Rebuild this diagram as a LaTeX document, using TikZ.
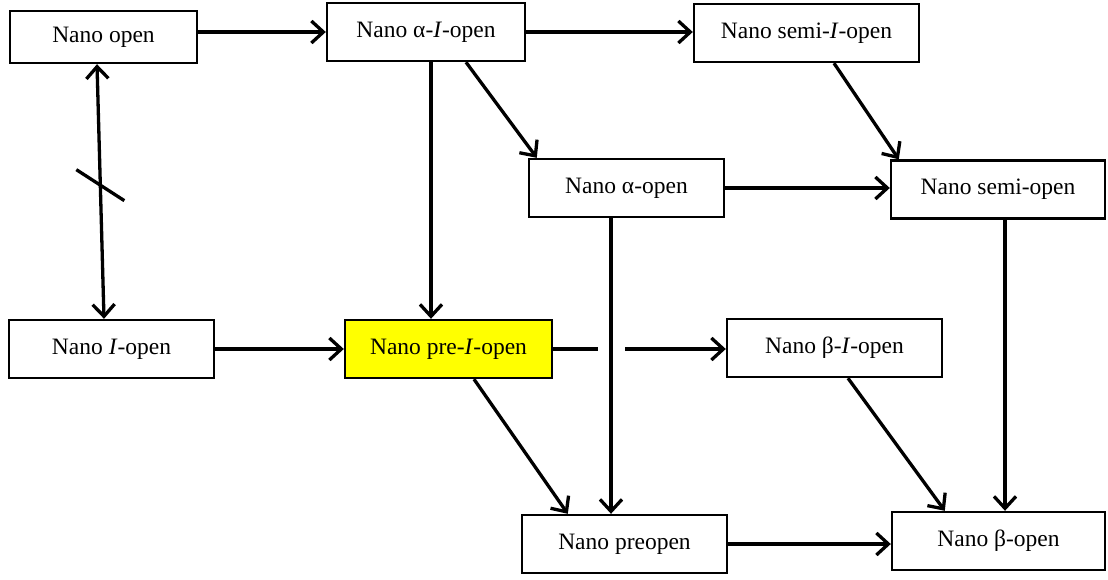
\documentclass[tikz,border=0pt]{standalone}
\usepackage{fontspec}
\setmainfont{Liberation Serif}
\usetikzlibrary{arrows.meta,calc}
\definecolor{hl}{RGB}{255,255,0}
\begin{document}
\begin{tikzpicture}[x=1pt,y=-1pt,
  box/.style={draw, line width=2.4pt, minimum height=58pt, inner sep=0pt,
    font=\fontsize{23.5}{28}\selectfont},
  conn/.style={line width=3.3pt, -{Straight Barb[length=12pt,width=22pt]}},
  both/.style={line width=3.3pt, {Straight Barb[length=12pt,width=22pt]}-{Straight Barb[length=12pt,width=22pt]}},
  plain/.style={line width=3.3pt}
]
\useasboundingbox (0,0) rectangle (1108,579);

\node[box, minimum width=187pt, minimum height=52pt] (open) at (103.5,37) {Nano open};
\node[box, minimum width=198pt] (aI) at (426,32) {Nano α-\textit{I}-open};
\node[box, minimum width=225pt] (sI) at (806.5,33) {Nano semi-\textit{I}-open};
\node[box, minimum width=195pt] (aop) at (626.5,188) {Nano α-open};
\node[box, minimum width=214pt] (sop) at (998,189.5) {Nano semi-open};
\node[box, minimum width=205pt] (iop) at (111.5,349) {Nano \textit{I}-open};
\node[box, minimum width=207pt, fill=hl] (pI) at (448.5,349) {Nano pre-\textit{I}-open};
\node[box, minimum width=215pt] (bI) at (834.5,348) {Nano β-\textit{I}-open};
\node[box, minimum width=205pt] (pre) at (624.5,544) {Nano preopen};
\node[box, minimum width=213pt] (bop) at (998.5,541) {Nano β-open};

% horizontals
\draw[conn] (open.east |- aI.west) -- (aI.west);
\draw[conn] (aI.east) -- (aI.east -| sI.west);
\draw[conn] (aop.east) -- (aop.east -| sop.west);
\draw[conn] (iop.east) -- (pI.west);
\draw[conn] (pre.east) -- (pre.east -| bop.west);

% verticals
\coordinate (v) at ([xshift=-15.5pt]aop.south);
\draw[conn] ([xshift=5pt]aI.south) -- ([xshift=5pt]aI.south |- pI.north);
\draw[conn] (v) -- (v |- pre.north);
\draw[conn] ([xshift=7pt]sop.south) -- ([xshift=7pt]sop.south |- bop.north);

% crossing with gap
\coordinate (X) at (pI.east -| v);
\draw[plain] (pI.east) -- ([xshift=-13pt]X);
\draw[conn] ([xshift=14pt]X) -- (X -| bI.west);

% diagonals
\draw[conn] ([xshift=40pt]aI.south) -- ([xshift=9pt]aop.north west);
\draw[conn] ([xshift=27.5pt]sI.south) -- ([xshift=9pt]sop.north west);
\draw[conn] ([xshift=25.5pt]pI.south) -- ([xshift=47pt]pre.north west);
\draw[conn] ([xshift=13.5pt]bI.south) -- ([xshift=54pt]bop.north west);

% double arrow with slash
\draw[both] ([xshift=-6.5pt]open.south) -- coordinate[pos=0.475] (m) ([xshift=-7.5pt]iop.north);
\draw[plain] ($(m)+(-24,-15.5)$) -- ($(m)+(24,15.5)$);
\end{tikzpicture}
\end{document}
